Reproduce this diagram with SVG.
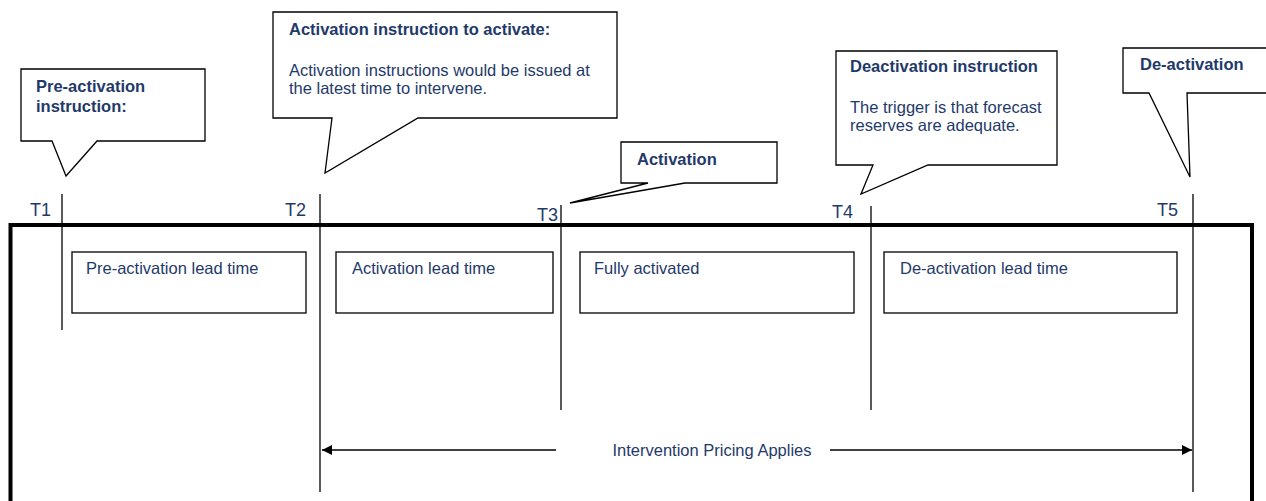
<svg xmlns="http://www.w3.org/2000/svg" width="1266" height="501" viewBox="0 0 1266 501">
<defs>
<style>
.t{font-family:"Liberation Sans",Arial,sans-serif;font-size:16.5px;fill:#1F3A6A}
.b{font-weight:bold}
.lbl{font-family:"Liberation Sans",Arial,sans-serif;font-size:18px;fill:#1F3A6A}
.call{fill:#fff;stroke:#000;stroke-width:1.3;stroke-linejoin:miter}
.box{fill:#fff;stroke:#000;stroke-width:1.3}
.tl{stroke:#000;stroke-width:1.3;fill:none}
</style>
<marker id="ah" viewBox="0 0 10 10" refX="10" refY="5" markerWidth="10" markerHeight="10" markerUnits="userSpaceOnUse" orient="auto">
<path d="M0,0 L10,5 L0,10 Z" fill="#000"/>
</marker>
</defs>
<rect width="1266" height="501" fill="#fff"/>
<rect id="frame" x="10.5" y="225" width="1241.5" height="300" fill="none" stroke="#000" stroke-width="4"/>

<g id="connectors">
<line class="tl" x1="62" y1="194" x2="62" y2="330"/>
<line class="tl" x1="320" y1="194" x2="320" y2="492"/>
<line class="tl" x1="561" y1="205" x2="561" y2="410"/>
<line class="tl" x1="871" y1="206" x2="871" y2="410"/>
<line class="tl" x1="1193" y1="194" x2="1193" y2="492"/>
<line class="tl" x1="556" y1="450" x2="322" y2="450" marker-end="url(#ah)"/>
<line class="tl" x1="830" y1="450" x2="1192" y2="450" marker-end="url(#ah)"/>
</g>

<g id="labels">
<text class="lbl" x="30" y="216">T1</text>
<text class="lbl" x="285" y="216">T2</text>
<text class="lbl" x="537" y="221">T3</text>
<text class="lbl" x="832" y="218">T4</text>
<text class="lbl" x="1157" y="216">T5</text>
<text class="t" x="712" y="456" text-anchor="middle">Intervention Pricing Applies</text>
</g>

<g id="callout-preactivation">
<path class="call" d="M21,69 H205 V141 H97 L66,176 L52,141 H21 Z"/>
<text class="t b" x="36" y="92">Pre-activation</text>
<text class="t b" x="36" y="112">instruction:</text>
</g>

<g id="callout-activation-instruction">
<path class="call" d="M273,12 H617 V118 H418 L325,173 L332,118 H273 Z"/>
<text class="t b" x="289" y="35">Activation instruction to activate:</text>
<text class="t" x="289" y="76">Activation instructions would be issued at</text>
<text class="t" x="289" y="94">the latest time to intervene.</text>
</g>

<g id="callout-activation">
<path class="call" d="M621,142 H777 V183 H685 L570,203 L648,183 H621 Z"/>
<text class="t b" x="637" y="165">Activation</text>
</g>

<g id="callout-deactivation-instruction">
<path class="call" d="M836,51 H1057 V165 H928 L861,194 L873,165 H836 Z"/>
<text class="t b" x="850" y="72">Deactivation instruction</text>
<text class="t" x="850" y="113">The trigger is that forecast</text>
<text class="t" x="850" y="131">reserves are adequate.</text>
</g>

<g id="callout-deactivation">
<path class="call" d="M1123,48 H1270 V93 H1187 L1190,177 L1149,93 H1123 Z"/>
<text class="t b" x="1140" y="70">De-activation</text>
</g>

<g id="box-preactivation-lead">
<rect class="box" x="72" y="252" width="234" height="61"/>
<text class="t" x="86" y="274">Pre-activation lead time</text>
</g>
<g id="box-activation-lead">
<rect class="box" x="336" y="252" width="217" height="61"/>
<text class="t" x="352" y="274">Activation lead time</text>
</g>
<g id="box-fully-activated">
<rect class="box" x="580" y="252" width="274" height="61"/>
<text class="t" x="594" y="274">Fully activated</text>
</g>
<g id="box-deactivation-lead">
<rect class="box" x="884" y="252" width="293" height="61"/>
<text class="t" x="900" y="274">De-activation lead time</text>
</g>
</svg>
